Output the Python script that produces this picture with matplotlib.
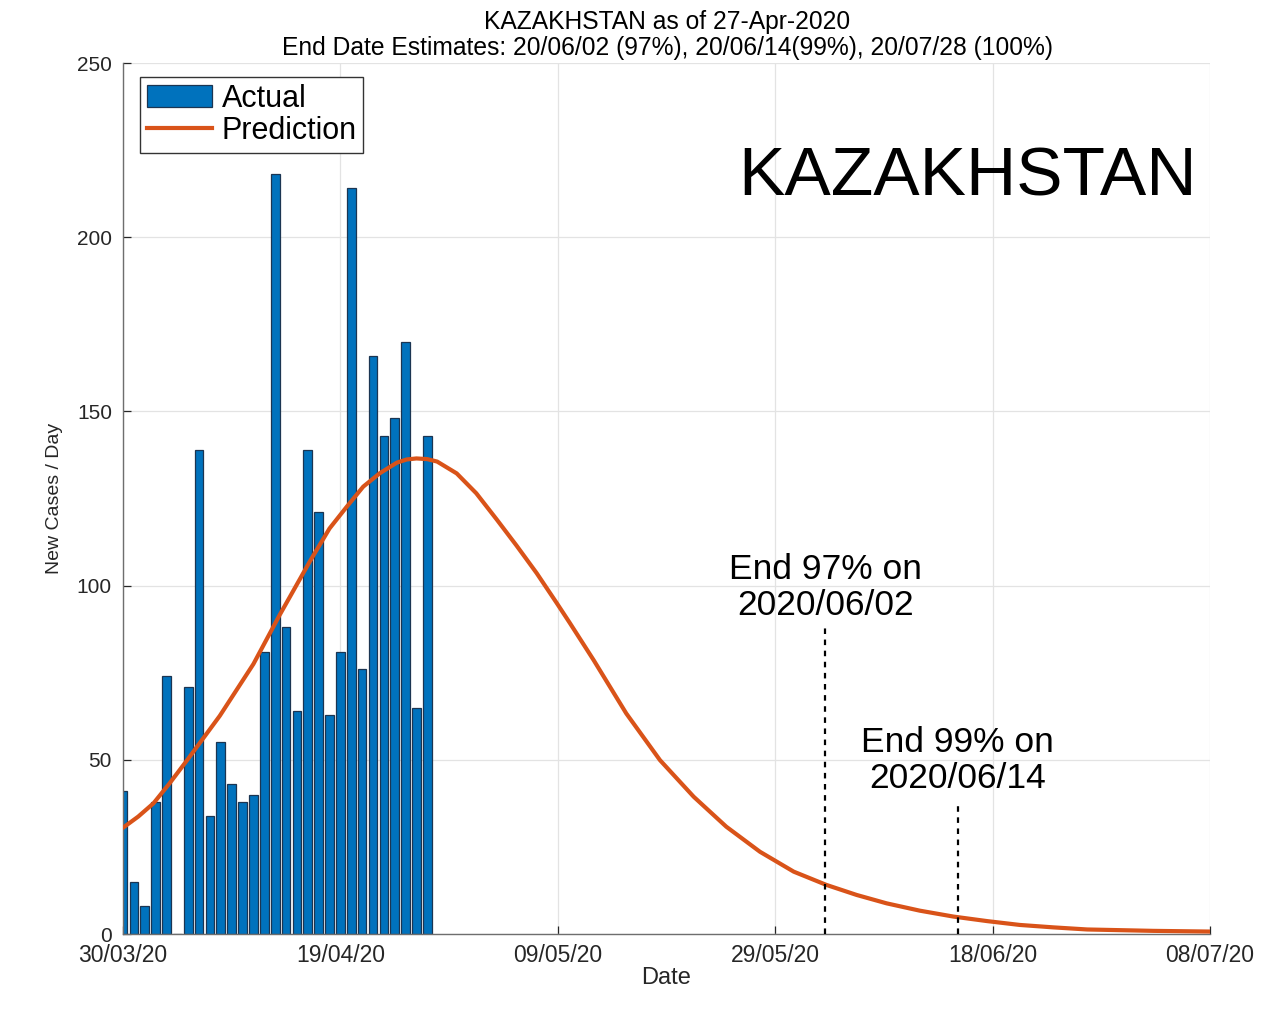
import matplotlib
matplotlib.use("Agg")
import matplotlib.pyplot as plt
from matplotlib.patches import Patch
from matplotlib.lines import Line2D

# ---------------- data ----------------
country = "KAZAKHSTAN"
title_line1 = "KAZAKHSTAN as of 27-Apr-2020"
title_line2 = "End Date Estimates: 20/06/02 (97%), 20/06/14(99%), 20/07/28 (100%)"

# days since 30/03/2020
actual_days = list(range(29))
actual_cases = [41, 15, 8, 38, 74, 0, 71, 139, 34, 55, 43, 38, 40, 81, 218,
                88, 64, 139, 121, 63, 81, 214, 76, 166, 143, 148, 170, 65, 143]

pred_days = [0, 1.4, 2.8, 4.3, 5.9, 8.9, 12, 14.4, 17.2, 19.0, 20.6, 22.1,
             23.6, 25.2, 26.1, 27.0, 28.0, 28.9, 30.7, 32.5, 34.4, 36.2,
             38.05, 39.9, 41.1, 43.3, 46.3, 49.4, 52.5, 55.5, 58.6, 61.7,
             64.7, 67.5, 70.25, 73.3, 76.4, 79.5, 82.5, 85.6, 88.7, 94.8, 100]
pred_cases = [30.5, 33.7, 37.5, 43.3, 49.9, 62.6, 77.5, 91.5, 107.0, 116.4,
              122.7, 128.4, 132.2, 135.3, 136.2, 136.5, 136.3, 135.6, 132.2,
              126.5, 118.9, 111.5, 103.6, 95.0, 89.3, 78.6, 63.3, 49.9, 39.4,
              30.8, 23.6, 17.9, 14.1, 11.2, 8.8, 6.7, 5.0, 3.7, 2.6, 1.9, 1.3,
              0.9, 0.7]

end_days = [64.6, 76.8]
end_line_tops = [88, 37.5]
end_labels = ["End 97% on\n2020/06/02", "End 99% on\n2020/06/14"]

x_ticks = [0, 20, 40, 60, 80, 100]
x_ticklabels = ["30/03/20", "19/04/20", "09/05/20", "29/05/20", "18/06/20", "08/07/20"]
y_ticks = [0, 50, 100, 150, 200, 250]

# ---------------- style ----------------
plt.rcParams['font.family'] = ['Liberation Sans', 'DejaVu Sans']
bar_color = "#0072BD"
bar_edge = "#1b3552"
line_color = "#D95319"
tick_color = "#262626"

fig = plt.figure(figsize=(12.88, 10.14), dpi=100)
ax = fig.add_axes([123/1288, 80/1014, 1087/1288, 871/1014])

ax.bar(actual_days, actual_cases, width=0.8, color=bar_color,
       edgecolor=bar_edge, linewidth=0.9, zorder=2)
ax.plot(pred_days, pred_cases, color=line_color, linewidth=3, zorder=3,
        solid_capstyle='round', solid_joinstyle='round')

for d, top in zip(end_days, end_line_tops):
    ax.plot([d, d], [0, top], color="black", linestyle=(0, (2.5, 2.5)),
            linewidth=1.6, zorder=4)

ax.text(end_days[0], 99.4, end_labels[0], ha='center', va='center',
        fontsize=25.5, linespacing=1.1, color="black", zorder=5)
ax.text(end_days[1], 49.8, end_labels[1], ha='center', va='center',
        fontsize=25.5, linespacing=1.1, color="black", zorder=5)

ax.text(0.7765, 0.868, country, transform=ax.transAxes, ha='center',
        va='center', fontsize=50, color="black")

ax.set_xlim(0, 100)
ax.set_ylim(0, 250)
ax.set_xticks(x_ticks)
ax.set_xticklabels(x_ticklabels)
ax.set_yticks(y_ticks)
ax.grid(True, color="#e3e3e3", linewidth=0.9, zorder=0)
ax.set_axisbelow(True)

for s in ['top', 'right']:
    ax.spines[s].set_visible(False)
for s in ['left', 'bottom']:
    ax.spines[s].set_color("#6e6e6e")
    ax.spines[s].set_linewidth(1.0)

ax.tick_params(axis='both', direction='in', length=6, width=0.9,
               colors=tick_color)
ax.tick_params(axis='x', pad=7, labelsize=16.5)
ax.tick_params(axis='y', pad=8, labelsize=15)

ax.set_xlabel("Date", fontsize=17, color=tick_color)
ax.xaxis.set_label_coords(0.5, -0.0505)
ax.xaxis.label.set_va('center')
ax.set_ylabel("New Cases / Day", fontsize=14, color=tick_color)
ax.yaxis.set_label_coords(-0.0626, 0.5)
ax.yaxis.label.set_va('center')

fig.text(667/1288, 1 - 22/1014, title_line1, ha='center', va='center',
         fontsize=17.7, color="black")
fig.text(667/1288, 1 - 48/1014, title_line2, ha='center', va='center',
         fontsize=17.7, color="black")

handles = [Patch(facecolor=bar_color, edgecolor=bar_edge, linewidth=0.9),
           Line2D([0], [0], color=line_color, linewidth=3)]
leg = ax.legend(handles, ["Actual", "Prediction"], loc='upper left',
                bbox_to_anchor=(0.0156, 0.984), borderaxespad=0,
                fontsize=22, fancybox=False, framealpha=1,
                edgecolor="#333333", handlelength=2.15, handletextpad=0.3,
                borderpad=0.22, labelspacing=0.08, handleheight=0.75)
leg.get_frame().set_linewidth(1.0)

fig.savefig("out.png", dpi=100, facecolor="white")
